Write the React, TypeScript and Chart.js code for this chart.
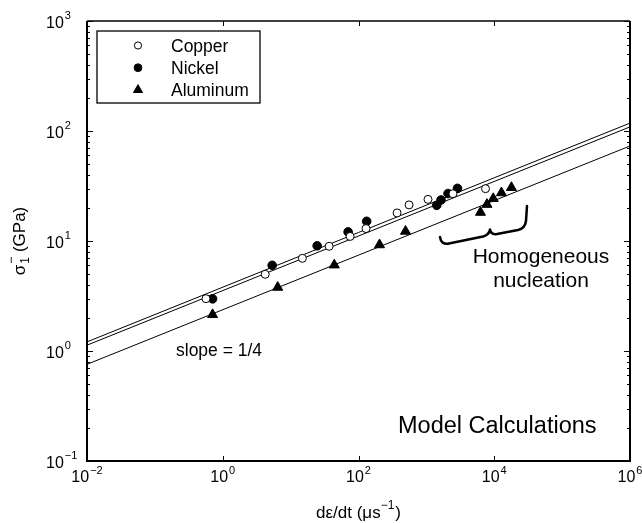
import React, { useEffect, useRef } from 'react';
import Chart from 'chart.js/auto';
import { drawPoint } from 'chart.js/helpers';

// ---- data ----
const seriesNames = ['Copper', 'Nickel', 'Aluminum'];
const copperX = [0.566, 4.22, 14.9, 36.9, 75.2, 129, 370, 556, 1057, 2466, 7430];
const copperY = [2.99, 4.98, 6.96, 8.95, 11.0, 12.97, 18.0, 21.3, 23.9, 26.9, 29.9];
const nickelX = [0.708, 5.35, 24.6, 70.3, 132, 1420, 1643, 2083, 2872];
const nickelY = [2.98, 6.01, 9.04, 12.1, 15.1, 21.1, 23.6, 27.0, 30.1];
const aluminumX = [0.708, 6.45, 44.0, 204, 493, 6266, 7810, 9670, 12760, 17910];
const aluminumY = [2.14, 3.79, 6.05, 9.23, 12.25, 18.2, 21.5, 24.3, 27.4, 30.6];
const fitX = [0.01, 1e6];
const nickelFitY = [1.21, 118];
const copperFitY = [1.13, 109];
const aluminumFitY = [0.757, 73.1];
const xTickExps = [-2, 0, 2, 4, 6];
const yTickExps = [-1, 0, 1, 2, 3];
const yMinorMultipliers = [2, 3, 4, 5, 6, 7, 8, 9];

const FONT = "'Liberation Sans', Arial, Helvetica, sans-serif";

function pts(xs: number[], ys: number[]) {
  return xs.map((x, i) => ({ x, y: ys[i] }));
}

function supStr(e: number) {
  return e < 0 ? '\u2212' + Math.abs(e) : String(e);
}

function drawPow(ctx: CanvasRenderingContext2D, exp: number, x: number, y: number, align: 'left' | 'center') {
  ctx.font = `16px ${FONT}`;
  const wb = ctx.measureText('10').width;
  ctx.font = `11px ${FONT}`;
  const es = supStr(exp);
  const we = ctx.measureText(es).width;
  const total = wb + 1 + we;
  const sx = align === 'center' ? x - total / 2 : x;
  ctx.textAlign = 'left';
  ctx.textBaseline = 'alphabetic';
  ctx.font = `16px ${FONT}`;
  ctx.fillText('10', sx, y);
  ctx.font = `11px ${FONT}`;
  ctx.fillText(es, sx + wb + 1, y - 8.5);
}

const decorPlugin = {
  id: 'decor',
  afterDraw(chart: any) {
    const ctx: CanvasRenderingContext2D = chart.ctx;
    const { left, right, top, bottom } = chart.chartArea;
    const xs = chart.scales.x;
    const ys = chart.scales.y;
    ctx.save();
    ctx.fillStyle = '#000';
    ctx.strokeStyle = '#000';

    // frame
    ctx.lineWidth = 2;
    ctx.beginPath();
    ctx.moveTo(left, top);
    ctx.lineTo(left, bottom);
    ctx.lineTo(right, bottom);
    ctx.lineTo(right, top);
    ctx.stroke();
    ctx.lineWidth = 1.5;
    ctx.beginPath();
    ctx.moveTo(left, top);
    ctx.lineTo(right, top);
    ctx.stroke();

    // ticks
    ctx.lineWidth = 1;
    ctx.beginPath();
    xTickExps.forEach((e) => {
      const px = Math.round(xs.getPixelForValue(Math.pow(10, e))) + 0.5;
      ctx.moveTo(px, bottom);
      ctx.lineTo(px, bottom - 5);
      ctx.moveTo(px, top);
      ctx.lineTo(px, top + 5);
    });
    yTickExps.forEach((e) => {
      const py = Math.round(ys.getPixelForValue(Math.pow(10, e))) + 0.5;
      ctx.moveTo(left, py);
      ctx.lineTo(left + 6, py);
      ctx.moveTo(right, py);
      ctx.lineTo(right - 6, py);
      if (e < 3) {
        yMinorMultipliers.forEach((m) => {
          const pm = Math.round(ys.getPixelForValue(m * Math.pow(10, e))) + 0.5;
          ctx.moveTo(left, pm);
          ctx.lineTo(left + 3, pm);
          ctx.moveTo(right, pm);
          ctx.lineTo(right - 3, pm);
        });
      }
    });
    ctx.stroke();

    // tick labels
    xTickExps.forEach((e) => {
      drawPow(ctx, e, xs.getPixelForValue(Math.pow(10, e)), bottom + 21, 'center');
    });
    yTickExps.forEach((e) => {
      drawPow(ctx, e, 46, ys.getPixelForValue(Math.pow(10, e)) + 6.5, 'left');
    });

    // x title: dε/dt (μs^-1)
    {
      ctx.font = `17px ${FONT}`;
      const a = 'd\u03b5/dt (\u03bcs';
      const c = ')';
      const wa = ctx.measureText(a).width;
      const wc = ctx.measureText(c).width;
      ctx.font = `12px ${FONT}`;
      const b = '\u22121';
      const wb = ctx.measureText(b).width;
      const total = wa + wb + 1 + wc;
      const cx = (left + right) / 2;
      const sx = cx - total / 2;
      const by = bottom + 57;
      ctx.textAlign = 'left';
      ctx.font = `17px ${FONT}`;
      ctx.fillText(a, sx, by);
      ctx.font = `12px ${FONT}`;
      ctx.fillText(b, sx + wa, by - 9);
      ctx.font = `17px ${FONT}`;
      ctx.fillText(c, sx + wa + wb + 1, by);
    }

    // y title: σ1^- (GPa), rotated
    {
      ctx.save();
      ctx.translate(25, (top + bottom) / 2);
      ctx.rotate(-Math.PI / 2);
      ctx.font = `17px ${FONT}`;
      const s = '\u03c3';
      const ws = ctx.measureText(s).width;
      const rest = ' (GPa)';
      const wr = ctx.measureText(rest).width;
      ctx.font = `12px ${FONT}`;
      const w1 = ctx.measureText('1').width;
      const wm = ctx.measureText('\u2212').width;
      const wsub = Math.max(w1, wm);
      const total = ws + 1 + wsub + wr;
      const sx = -total / 2;
      ctx.textAlign = 'left';
      ctx.textBaseline = 'alphabetic';
      ctx.font = `17px ${FONT}`;
      ctx.fillText(s, sx, 0);
      ctx.font = `12px ${FONT}`;
      ctx.fillText('1', sx + ws + 1, 4);
      ctx.fillText('\u2212', sx + ws + 1, -10);
      ctx.font = `17px ${FONT}`;
      ctx.fillText(rest, sx + ws + 1 + wsub, 0);
      ctx.restore();
    }

    // legend box
    {
      const bx = left + 10;
      const by = top + 10;
      const bw = 163;
      const bh = 72;
      ctx.fillStyle = '#fff';
      ctx.fillRect(bx, by, bw, bh);
      ctx.fillStyle = '#000';
      ctx.lineWidth = 1.3;
      ctx.strokeStyle = '#000';
      ctx.strokeRect(bx, by, bw, bh);
      const datasets = chart.data.datasets.filter((d: any) => seriesNames.includes(d.label));
      datasets.forEach((d: any, i: number) => {
        const my = by + 14.5 + i * 22.2;
        const mx = bx + 41;
        ctx.fillStyle = d.pointBackgroundColor;
        ctx.strokeStyle = d.pointBorderColor;
        ctx.lineWidth = 1;
        drawPoint(ctx, { pointStyle: d.pointStyle, radius: d.pointRadius * 0.9, rotation: 0, borderWidth: 1 }, mx, my);
        ctx.fillStyle = '#000';
        ctx.font = `17.5px ${FONT}`;
        ctx.textAlign = 'left';
        ctx.fillText(d.label, bx + 74, my + 6.5);
      });
    }

    // annotations
    ctx.fillStyle = '#000';
    ctx.textAlign = 'left';
    ctx.font = `17.5px ${FONT}`;
    ctx.fillText('slope = 1/4', 176, 356);
    ctx.font = `23.5px ${FONT}`;
    ctx.fillText('Model Calculations', 398, 433);
    ctx.font = `21px ${FONT}`;
    ctx.textAlign = 'center';
    ctx.fillText('Homogeneous', 541, 263);
    ctx.fillText('nucleation', 541, 287);

    // brace
    ctx.lineWidth = 2.5;
    ctx.lineCap = 'round';
    ctx.lineJoin = 'round';
    ctx.strokeStyle = '#000';
    ctx.beginPath();
    ctx.moveTo(440, 237);
    ctx.quadraticCurveTo(441, 245, 449, 243.5);
    ctx.lineTo(483, 236.5);
    ctx.quadraticCurveTo(489, 235, 490, 229.5);
    ctx.quadraticCurveTo(491, 235, 497, 234);
    ctx.lineTo(518, 230);
    ctx.quadraticCurveTo(525, 228.5, 526, 221);
    ctx.lineTo(527, 206);
    ctx.stroke();

    ctx.restore();
  },
};

export default function App() {
  const ref = useRef<HTMLCanvasElement>(null);
  useEffect(() => {
    if (!ref.current) return;
    const fitStyle = {
      showLine: true,
      pointRadius: 0,
      borderColor: '#000',
      borderWidth: 1,
      fill: false,
      order: 10,
    };
    const chart = new Chart(ref.current, {
      type: 'scatter',
      data: {
        datasets: [
          { label: 'Nickel fit', data: pts(fitX, nickelFitY), ...fitStyle },
          { label: 'Copper fit', data: pts(fitX, copperFitY), ...fitStyle },
          { label: 'Aluminum fit', data: pts(fitX, aluminumFitY), ...fitStyle },
          {
            label: seriesNames[0],
            data: pts(copperX, copperY),
            pointStyle: 'circle',
            pointRadius: 4,
            pointBackgroundColor: '#fff',
            pointBorderColor: '#000',
            pointBorderWidth: 1,
            order: 1,
          },
          {
            label: seriesNames[1],
            data: pts(nickelX, nickelY),
            pointStyle: 'circle',
            pointRadius: 4.3,
            pointBackgroundColor: '#000',
            pointBorderColor: '#000',
            pointBorderWidth: 1,
            order: 1,
          },
          {
            label: seriesNames[2],
            data: pts(aluminumX, aluminumY),
            pointStyle: 'triangle',
            pointRadius: 5.8,
            pointBackgroundColor: '#000',
            pointBorderColor: '#000',
            pointBorderWidth: 1,
            order: 1,
          },
        ] as any,
      },
      options: {
        responsive: false,
        animation: false,
        devicePixelRatio: 1,
        layout: { padding: { left: 87, top: 21, right: 12, bottom: 62 } },
        scales: {
          x: { type: 'logarithmic', min: 0.01, max: 1e6, display: false },
          y: { type: 'logarithmic', min: 0.1, max: 1000, display: false },
        },
        plugins: { legend: { display: false }, tooltip: { enabled: false } },
        events: [],
      },
      plugins: [decorPlugin],
    });
    return () => chart.destroy();
  }, []);
  return (
    <div style={{ position: 'fixed', left: 0, top: 0, width: 642, height: 523, background: '#fff' }}>
      <canvas ref={ref} width={642} height={523} style={{ display: 'block' }} />
    </div>
  );
}
